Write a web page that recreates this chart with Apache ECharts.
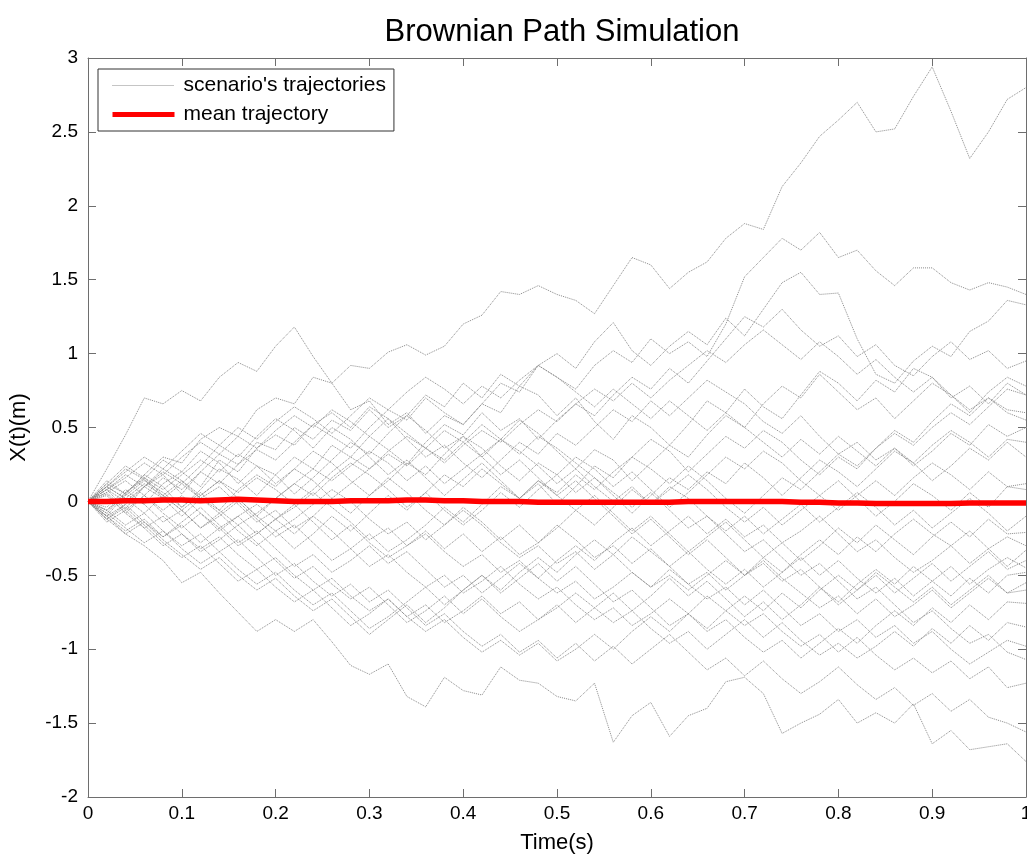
<!DOCTYPE html>
<html>
<head>
<meta charset="utf-8">
<title>Brownian Path Simulation</title>
<script src="https://cdn.jsdelivr.net/npm/echarts@6/dist/echarts.min.js"></script>
<style>
    html, body { margin: 0; padding: 0; background: #fff; }
    #chart { width: 1027px; height: 855px; }
</style>
</head>
<body>
<div id="chart"></div>
<script>
// sample times (s)
const time = [0, 0.02, 0.04, 0.06, 0.08, 0.1, 0.12, 0.14, 0.16, 0.18,
    0.2, 0.22, 0.24, 0.26, 0.28, 0.3, 0.32, 0.34, 0.36, 0.38,
    0.4, 0.42, 0.44, 0.46, 0.48, 0.5, 0.52, 0.54, 0.56, 0.58,
    0.6, 0.62, 0.64, 0.66, 0.68, 0.7, 0.72, 0.74, 0.76, 0.78,
    0.8, 0.82, 0.84, 0.86, 0.88, 0.9, 0.92, 0.94, 0.96, 0.98, 1];

// scenario trajectories X(t)
const path01 = [0, 0.12, 0.05, 0.18, 0.30, 0.26, 0.42, 0.50, 0.44, 0.62, 0.70, 0.66, 0.84, 0.80, 0.92, 0.90, 1.01, 1.06, 0.99, 1.05, 1.20, 1.26, 1.42, 1.40, 1.46, 1.40, 1.36, 1.27, 1.46, 1.65, 1.60, 1.44, 1.55, 1.62, 1.78, 1.88, 1.84, 2.13, 2.29, 2.47, 2.58, 2.70, 2.50, 2.52, 2.74, 2.94, 2.64, 2.32, 2.50, 2.72, 2.80];
const path02 = [0, 0.22, 0.45, 0.70, 0.66, 0.75, 0.68, 0.84, 0.94, 0.88, 1.05, 1.18, 0.98, 0.80, 0.62, 0.68, 0.52, 0.60, 0.46, 0.58, 0.52, 0.66, 0.60, 0.78, 0.72, 0.58, 0.70, 0.54, 0.42, 0.58, 0.50, 0.38, 0.52, 0.68, 0.60, 0.76, 0.64, 0.56, 0.72, 0.88, 0.80, 0.68, 0.82, 0.74, 0.90, 0.84, 0.70, 0.78, 0.66, 0.80, 0.72];
const path03 = [0, 0.08, -0.05, 0.10, 0.18, 0.05, 0.20, 0.32, 0.25, 0.40, 0.35, 0.50, 0.42, 0.55, 0.48, 0.62, 0.50, 0.58, 0.72, 0.64, 0.80, 0.70, 0.86, 0.78, 0.92, 0.84, 0.76, 0.92, 1.02, 0.94, 1.10, 1.00, 1.08, 0.98, 1.20, 1.52, 1.65, 1.78, 1.70, 1.82, 1.65, 1.70, 1.56, 1.46, 1.58, 1.58, 1.48, 1.43, 1.48, 1.45, 1.40];
const path04 = [0, -0.10, 0.05, -0.02, 0.12, 0.20, 0.10, 0.28, 0.20, 0.36, 0.45, 0.38, 0.52, 0.44, 0.36, 0.50, 0.62, 0.55, 0.70, 0.60, 0.52, 0.66, 0.80, 0.74, 0.92, 1.00, 0.90, 1.08, 1.21, 1.02, 0.92, 1.05, 1.15, 1.06, 1.24, 1.12, 1.30, 1.48, 1.55, 1.40, 1.41, 1.10, 0.86, 0.80, 0.95, 1.05, 0.98, 1.15, 1.22, 1.36, 1.33];
const path05 = [0, 0.14, 0.05, 0.18, 0.10, -0.04, 0.08, 0.22, 0.15, 0.04, 0.18, 0.30, 0.22, 0.38, 0.30, 0.44, 0.35, 0.25, 0.40, 0.52, 0.45, 0.60, 0.48, 0.56, 0.42, 0.55, 0.66, 0.58, 0.72, 0.84, 0.76, 0.90, 0.80, 0.95, 1.10, 1.25, 1.18, 1.30, 1.16, 1.05, 1.12, 0.98, 1.06, 0.92, 0.85, 0.98, 1.08, 0.96, 1.02, 0.90, 0.95];
const path06 = [0, -0.08, 0.06, 0.15, 0.28, 0.20, 0.34, 0.26, 0.12, 0.24, 0.18, 0.05, 0.16, 0.28, 0.40, 0.32, 0.46, 0.58, 0.48, 0.36, 0.44, 0.30, 0.42, 0.55, 0.46, 0.34, 0.22, 0.35, 0.28, 0.14, 0.26, 0.38, 0.30, 0.45, 0.58, 0.50, 0.66, 0.78, 0.70, 0.86, 0.74, 0.62, 0.70, 0.56, 0.68, 0.80, 0.72, 0.60, 0.74, 0.84, 0.78];
const path07 = [0, 0.10, 0.22, 0.15, 0.02, 0.12, 0.24, 0.38, 0.30, 0.44, 0.56, 0.48, 0.36, 0.50, 0.42, 0.30, 0.18, 0.28, 0.16, 0.04, 0.15, 0.26, 0.14, 0.02, 0.12, -0.02, 0.10, 0.24, 0.16, 0.30, 0.42, 0.34, 0.20, 0.32, 0.44, 0.36, 0.48, 0.40, 0.28, 0.18, 0.30, 0.22, 0.36, 0.48, 0.40, 0.54, 0.66, 0.58, 0.70, 0.62, 0.60];
const path08 = [0, 0.05, -0.08, 0.04, 0.16, 0.08, 0.20, 0.12, 0.25, 0.35, 0.28, 0.40, 0.52, 0.60, 0.50, 0.64, 0.56, 0.42, 0.30, 0.38, 0.26, 0.16, 0.28, 0.40, 0.32, 0.46, 0.38, 0.50, 0.62, 0.54, 0.68, 0.58, 0.70, 0.82, 0.74, 0.66, 0.54, 0.46, 0.58, 0.44, 0.32, 0.40, 0.28, 0.36, 0.24, 0.34, 0.46, 0.38, 0.52, 0.44, 0.50];
const path09 = [0, -0.12, -0.02, 0.10, 0.02, -0.10, 0.02, -0.06, 0.08, 0.18, 0.10, 0.22, 0.14, 0.02, -0.08, 0.04, 0.14, 0.26, 0.18, 0.32, 0.44, 0.36, 0.24, 0.14, 0.26, 0.18, 0.06, 0.16, 0.04, -0.08, 0.04, 0.16, 0.08, 0.20, 0.12, 0.26, 0.16, 0.04, 0.16, 0.28, 0.20, 0.10, 0.22, 0.34, 0.26, 0.14, 0.24, 0.36, 0.28, 0.40, 0.30];
const path10 = [0, 0.08, 0.18, 0.10, 0.22, 0.14, 0.04, 0.14, 0.02, -0.10, 0.02, 0.12, 0.04, 0.16, 0.26, 0.18, 0.08, -0.04, 0.06, -0.06, -0.16, -0.06, 0.06, -0.04, 0.08, 0.18, 0.30, 0.22, 0.10, 0.20, 0.08, -0.04, 0.06, 0.18, 0.30, 0.22, 0.34, 0.26, 0.14, 0.04, 0.14, 0.02, -0.10, 0.00, 0.12, 0.04, -0.06, 0.06, -0.04, 0.10, 0.08];
const path11 = [0, -0.06, 0.06, 0.16, 0.08, 0.18, 0.28, 0.20, 0.32, 0.24, 0.12, 0.22, 0.34, 0.26, 0.14, 0.04, 0.16, 0.06, -0.06, -0.16, -0.04, -0.14, -0.26, -0.16, -0.28, -0.18, -0.06, -0.16, -0.04, 0.08, -0.02, 0.10, 0.02, -0.10, -0.20, -0.10, -0.22, -0.12, -0.02, -0.14, -0.04, 0.06, -0.04, -0.16, -0.06, -0.18, -0.08, 0.02, -0.08, -0.20, -0.10];
const path12 = [0, 0.10, 0.02, -0.08, 0.04, -0.06, -0.18, -0.08, -0.20, -0.30, -0.20, -0.32, -0.22, -0.10, -0.20, -0.08, 0.04, -0.06, 0.06, 0.18, 0.10, 0.22, 0.12, 0.02, 0.14, 0.04, -0.06, 0.04, -0.08, -0.20, -0.10, -0.22, -0.34, -0.24, -0.14, -0.26, -0.38, -0.28, -0.40, -0.30, -0.18, -0.28, -0.16, -0.26, -0.36, -0.24, -0.14, -0.24, -0.12, -0.22, -0.21];
const path13 = [0, -0.10, -0.20, -0.12, -0.24, -0.14, -0.04, -0.16, -0.28, -0.20, -0.32, -0.44, -0.36, -0.48, -0.40, -0.30, -0.42, -0.34, -0.46, -0.58, -0.50, -0.62, -0.52, -0.42, -0.52, -0.40, -0.30, -0.40, -0.28, -0.18, -0.30, -0.20, -0.10, -0.22, -0.12, -0.24, -0.16, -0.28, -0.20, -0.10, -0.22, -0.34, -0.26, -0.38, -0.48, -0.40, -0.30, -0.42, -0.32, -0.44, -0.33];
const path14 = [0, 0.12, 0.24, 0.16, 0.04, 0.14, 0.02, 0.10, -0.02, -0.14, -0.06, -0.18, -0.10, 0.02, 0.12, 0.22, 0.32, 0.24, 0.36, 0.28, 0.40, 0.30, 0.18, 0.28, 0.16, 0.04, 0.14, 0.02, -0.10, -0.22, -0.12, -0.24, -0.36, -0.26, -0.38, -0.50, -0.42, -0.54, -0.46, -0.58, -0.70, -0.60, -0.50, -0.62, -0.52, -0.42, -0.54, -0.44, -0.34, -0.46, -0.40];
const path15 = [0, -0.14, -0.06, -0.18, -0.30, -0.22, -0.34, -0.26, -0.16, -0.28, -0.40, -0.52, -0.44, -0.56, -0.66, -0.58, -0.70, -0.82, -0.74, -0.64, -0.76, -0.66, -0.78, -0.88, -0.80, -0.70, -0.82, -0.72, -0.62, -0.74, -0.64, -0.52, -0.64, -0.54, -0.66, -0.78, -0.68, -0.80, -0.70, -0.58, -0.68, -0.56, -0.46, -0.56, -0.44, -0.54, -0.64, -0.52, -0.62, -0.50, -0.48];
const path16 = [0, 0.06, -0.06, 0.04, -0.08, -0.18, -0.08, -0.20, -0.10, -0.22, -0.12, -0.02, -0.14, -0.26, -0.16, -0.28, -0.38, -0.30, -0.20, -0.32, -0.22, -0.34, -0.24, -0.36, -0.28, -0.16, -0.26, -0.38, -0.30, -0.42, -0.32, -0.44, -0.56, -0.48, -0.60, -0.50, -0.40, -0.52, -0.62, -0.72, -0.64, -0.76, -0.66, -0.78, -0.70, -0.60, -0.72, -0.62, -0.52, -0.62, -0.55];
const path17 = [0, -0.08, -0.18, -0.28, -0.20, -0.32, -0.42, -0.34, -0.46, -0.56, -0.48, -0.60, -0.70, -0.62, -0.74, -0.86, -0.78, -0.68, -0.58, -0.70, -0.60, -0.50, -0.62, -0.52, -0.42, -0.54, -0.44, -0.56, -0.68, -0.60, -0.72, -0.84, -0.76, -0.88, -0.80, -0.92, -1.02, -0.94, -1.06, -0.96, -0.86, -0.96, -0.84, -0.74, -0.84, -0.72, -0.82, -0.70, -0.80, -0.68, -0.69];
const path18 = [0, -0.12, -0.04, -0.16, -0.28, -0.38, -0.30, -0.42, -0.54, -0.46, -0.58, -0.68, -0.60, -0.72, -0.84, -0.76, -0.66, -0.78, -0.70, -0.82, -0.74, -0.64, -0.76, -0.68, -0.80, -0.72, -0.62, -0.72, -0.82, -0.74, -0.86, -0.96, -0.88, -1.00, -0.90, -0.80, -0.92, -0.82, -0.94, -1.04, -0.96, -1.06, -0.98, -0.88, -0.98, -0.86, -0.96, -0.84, -0.94, -0.82, -0.85];
const path19 = [0, -0.10, -0.22, -0.30, -0.40, -0.55, -0.48, -0.62, -0.75, -0.88, -0.80, -0.88, -0.80, -0.95, -1.11, -1.17, -1.10, -1.32, -1.39, -1.19, -1.28, -1.31, -1.12, -1.21, -1.23, -1.32, -1.35, -1.23, -1.63, -1.45, -1.36, -1.59, -1.45, -1.40, -1.22, -1.19, -1.30, -1.57, -1.50, -1.44, -1.34, -1.50, -1.43, -1.50, -1.37, -1.64, -1.55, -1.68, -1.66, -1.64, -1.76];
const path20 = [0, -0.06, -0.16, -0.08, -0.20, -0.30, -0.22, -0.34, -0.26, -0.38, -0.50, -0.42, -0.54, -0.64, -0.56, -0.68, -0.60, -0.72, -0.84, -0.76, -0.88, -0.98, -0.90, -1.02, -0.94, -1.06, -0.96, -1.08, -0.98, -1.10, -1.00, -0.90, -1.02, -1.14, -1.06, -1.18, -1.08, -1.20, -1.30, -1.22, -1.12, -1.24, -1.34, -1.26, -1.38, -1.30, -1.42, -1.34, -1.46, -1.50, -1.56];
const path21 = [0, 0.08, 0.16, 0.26, 0.18, 0.30, 0.40, 0.32, 0.44, 0.36, 0.48, 0.58, 0.50, 0.62, 0.54, 0.44, 0.56, 0.46, 0.36, 0.48, 0.40, 0.52, 0.42, 0.32, 0.44, 0.36, 0.26, 0.16, 0.06, -0.04, 0.06, -0.06, -0.18, -0.10, -0.22, -0.34, -0.26, -0.38, -0.50, -0.42, -0.54, -0.66, -0.58, -0.70, -0.82, -0.74, -0.86, -0.96, -0.90, -1.02, -1.07];
const path22 = [0, -0.04, 0.08, -0.02, -0.14, -0.06, -0.18, -0.10, 0.00, -0.12, -0.24, -0.16, -0.28, -0.40, -0.32, -0.44, -0.36, -0.48, -0.58, -0.50, -0.62, -0.54, -0.44, -0.56, -0.66, -0.58, -0.70, -0.80, -0.72, -0.84, -0.76, -0.66, -0.76, -0.64, -0.74, -0.84, -0.76, -0.88, -0.98, -0.90, -1.02, -0.92, -1.04, -1.14, -1.06, -1.16, -1.08, -1.20, -1.12, -1.26, -1.23];
const path23 = [0, 0.04, -0.08, -0.18, -0.10, -0.22, -0.32, -0.24, -0.36, -0.46, -0.38, -0.50, -0.60, -0.52, -0.64, -0.74, -0.66, -0.78, -0.88, -0.80, -0.92, -1.02, -0.94, -1.04, -0.96, -1.08, -1.00, -0.90, -1.00, -0.88, -0.78, -0.88, -0.76, -0.86, -0.74, -0.64, -0.74, -0.62, -0.72, -0.60, -0.50, -0.60, -0.48, -0.58, -0.68, -0.58, -0.70, -0.60, -0.50, -0.62, -0.60];
const path24 = [0, -0.10, -0.02, -0.14, -0.24, -0.16, -0.28, -0.18, -0.30, -0.22, -0.12, -0.22, -0.10, -0.20, -0.32, -0.22, -0.34, -0.26, -0.16, -0.04, -0.14, -0.02, 0.10, 0.02, 0.14, 0.06, 0.18, 0.08, 0.20, 0.30, 0.22, 0.12, 0.24, 0.14, 0.02, -0.08, 0.04, 0.16, 0.08, 0.20, 0.32, 0.24, 0.36, 0.46, 0.38, 0.50, 0.60, 0.52, 0.64, 0.76, 0.72];
const path25 = [0, 0.06, 0.14, 0.04, -0.06, 0.04, -0.08, -0.18, -0.10, -0.02, -0.12, -0.04, 0.06, -0.04, -0.14, -0.26, -0.18, -0.30, -0.22, -0.34, -0.44, -0.36, -0.48, -0.40, -0.52, -0.62, -0.54, -0.66, -0.58, -0.48, -0.58, -0.46, -0.56, -0.66, -0.58, -0.70, -0.60, -0.72, -0.84, -0.76, -0.88, -0.80, -0.92, -0.84, -0.96, -0.88, -1.00, -1.10, -1.02, -0.94, -0.98];
const path26 = [0, 0.10, 0.20, 0.30, 0.22, 0.34, 0.46, 0.38, 0.50, 0.42, 0.54, 0.64, 0.56, 0.46, 0.58, 0.70, 0.62, 0.74, 0.84, 0.76, 0.66, 0.78, 0.70, 0.82, 0.92, 0.84, 0.74, 0.64, 0.76, 0.66, 0.56, 0.68, 0.58, 0.48, 0.60, 0.50, 0.40, 0.30, 0.42, 0.32, 0.44, 0.34, 0.24, 0.36, 0.26, 0.38, 0.48, 0.40, 0.30, 0.42, 0.40];
const path27 = [0, 0.08, 0.00, 0.10, 0.20, 0.12, 0.02, -0.08, 0.02, -0.10, -0.20, -0.12, -0.02, 0.08, 0.00, -0.12, -0.22, -0.14, -0.26, -0.16, -0.06, -0.16, -0.28, -0.38, -0.30, -0.42, -0.34, -0.46, -0.36, -0.48, -0.58, -0.50, -0.60, -0.50, -0.40, -0.50, -0.38, -0.48, -0.36, -0.26, -0.36, -0.24, -0.34, -0.22, -0.12, -0.22, -0.30, -0.20, -0.32, -0.24, -0.30];
const path28 = [0, -0.06, 0.04, 0.14, 0.06, -0.04, 0.06, -0.06, -0.16, -0.08, 0.02, 0.12, 0.22, 0.14, 0.24, 0.34, 0.26, 0.14, 0.24, 0.12, 0.22, 0.32, 0.42, 0.34, 0.24, 0.12, 0.22, 0.10, 0.00, 0.10, -0.02, 0.08, 0.18, 0.08, -0.04, -0.14, -0.04, -0.16, -0.06, 0.04, -0.06, 0.04, 0.14, 0.04, 0.16, 0.26, 0.18, 0.08, 0.20, 0.10, 0.12];
const path29 = [0, -0.12, -0.22, -0.14, -0.26, -0.36, -0.46, -0.38, -0.50, -0.60, -0.52, -0.64, -0.74, -0.66, -0.78, -0.90, -0.80, -0.70, -0.82, -0.72, -0.60, -0.50, -0.60, -0.48, -0.38, -0.48, -0.36, -0.26, -0.36, -0.24, -0.34, -0.44, -0.34, -0.46, -0.56, -0.46, -0.58, -0.48, -0.38, -0.50, -0.40, -0.52, -0.62, -0.52, -0.64, -0.54, -0.44, -0.56, -0.46, -0.38, -0.45];
const path30 = [0, 0.10, 0.02, 0.12, 0.04, -0.06, 0.04, 0.14, 0.06, 0.16, 0.08, -0.02, 0.08, 0.20, 0.30, 0.22, 0.34, 0.44, 0.36, 0.26, 0.38, 0.48, 0.40, 0.52, 0.62, 0.54, 0.66, 0.76, 0.68, 0.80, 0.70, 0.82, 0.92, 1.02, 0.94, 1.06, 1.16, 1.06, 0.96, 1.08, 0.98, 0.86, 0.96, 0.84, 0.74, 0.84, 0.72, 0.62, 0.70, 0.60, 0.55];

// mean trajectory (red)
const meanPath = [0, 0.000, 0.005, 0.005, 0.010, 0.010, 0.005, 0.010, 0.015, 0.010,
    0.005, 0.000, 0.000, 0.000, 0.005, 0.005, 0.005, 0.010, 0.010, 0.005,
    0.005, 0.000, 0.000, 0.000, -0.005, -0.005, -0.005, -0.005, -0.005, -0.005,
    -0.005, -0.005, 0.000, 0.000, 0.000, 0.000, 0.000, 0.000, -0.005, -0.005,
    -0.010, -0.010, -0.015, -0.015, -0.015, -0.015, -0.015, -0.010, -0.010, -0.010, -0.010];

const paths = [path01, path02, path03, path04, path05, path06, path07, path08, path09, path10,
    path11, path12, path13, path14, path15, path16, path17, path18, path19, path20,
    path21, path22, path23, path24, path25, path26, path27, path28, path29, path30];

const pathName = "scenario's trajectories";
const meanName = 'mean trajectory';

const font = '"Liberation Sans", Arial, Helvetica, sans-serif';
const axisColor = '#6e6e6e';
const pathColor = '#8a8a8a';

function toPoints(values) {
    return values.map(function (v, i) { return [time[i], v]; });
}

let chart = echarts.init(document.getElementById('chart'));

let series = paths.map(function (p) {
    return {
        name: pathName,
        type: 'line',
        data: toPoints(p),
        symbol: 'none',
        showSymbol: false,
        silent: true,
        itemStyle: { color: pathColor },
        lineStyle: { color: pathColor, width: 1, type: 'dotted' },
        z: 2
    };
});
series.push({
    name: meanName,
    type: 'line',
    data: toPoints(meanPath),
    symbol: 'none',
    showSymbol: false,
    silent: true,
    itemStyle: { color: '#ff0000' },
    lineStyle: { color: '#ff0000', width: 5.5 },
    z: 5
});

const boxAxis = {
    axisLine: { show: true, onZero: false, lineStyle: { color: axisColor, width: 1 } },
    axisTick: { show: true, inside: true, length: 8, lineStyle: { color: axisColor } },
    splitLine: { show: false }
};

const option = {
    animation: false,
    backgroundColor: '#fff',
    textStyle: { fontFamily: font },
    title: {
        text: 'Brownian Path Simulation',
        left: 557,
        top: 12,
        textAlign: 'center',
        textStyle: { fontFamily: font, fontSize: 31, fontWeight: 'normal', color: '#000' }
    },
    legend: {
        data: [
            { name: pathName, itemStyle: { opacity: 0 }, lineStyle: { color: pathColor, width: 1, type: 'dotted' } },
            { name: meanName, itemStyle: { opacity: 0 }, lineStyle: { color: '#ff0000', width: 5 } }
        ],
        orient: 'vertical',
        left: 98,
        top: 69,
        padding: [6, 8, 6, 12],
        itemGap: 8,
        itemWidth: 62,
        itemHeight: 14,
        backgroundColor: '#fff',
        borderColor: '#333',
        borderWidth: 1,
        borderRadius: 0,
        selectedMode: false,
        textStyle: { fontFamily: font, fontSize: 21, color: '#000', padding: [0, 0, 0, 4] }
    },
    grid: { left: 88, right: 1, top: 58, bottom: 58, outerBoundsMode: 'none' },
    xAxis: [
        Object.assign({
            type: 'value',
            min: 0,
            max: 1,
            interval: 0.1,
            name: 'Time(s)',
            nameLocation: 'middle',
            nameGap: 35,
            nameTextStyle: { fontFamily: font, fontSize: 22, color: '#000' },
            axisLabel: { fontFamily: font, fontSize: 19, color: '#000', margin: 7 }
        }, boxAxis),
        Object.assign({
            type: 'value',
            position: 'top',
            min: 0,
            max: 1,
            interval: 0.1,
            axisLabel: { show: false }
        }, boxAxis)
    ],
    yAxis: [
        Object.assign({
            type: 'value',
            min: -2,
            max: 3,
            interval: 0.5,
            name: 'X(t)(m)',
            nameLocation: 'middle',
            nameRotate: 90,
            nameGap: 58,
            nameTextStyle: { fontFamily: font, fontSize: 22, color: '#000' },
            axisLabel: { fontFamily: font, fontSize: 19, color: '#000', margin: 10 }
        }, boxAxis),
        Object.assign({
            type: 'value',
            position: 'right',
            min: -2,
            max: 3,
            interval: 0.5,
            axisLabel: { show: false }
        }, boxAxis)
    ],
    series: series
};

chart.setOption(option);

window.addEventListener('resize', function () {
    chart.resize();
});
</script>
</body>
</html>
